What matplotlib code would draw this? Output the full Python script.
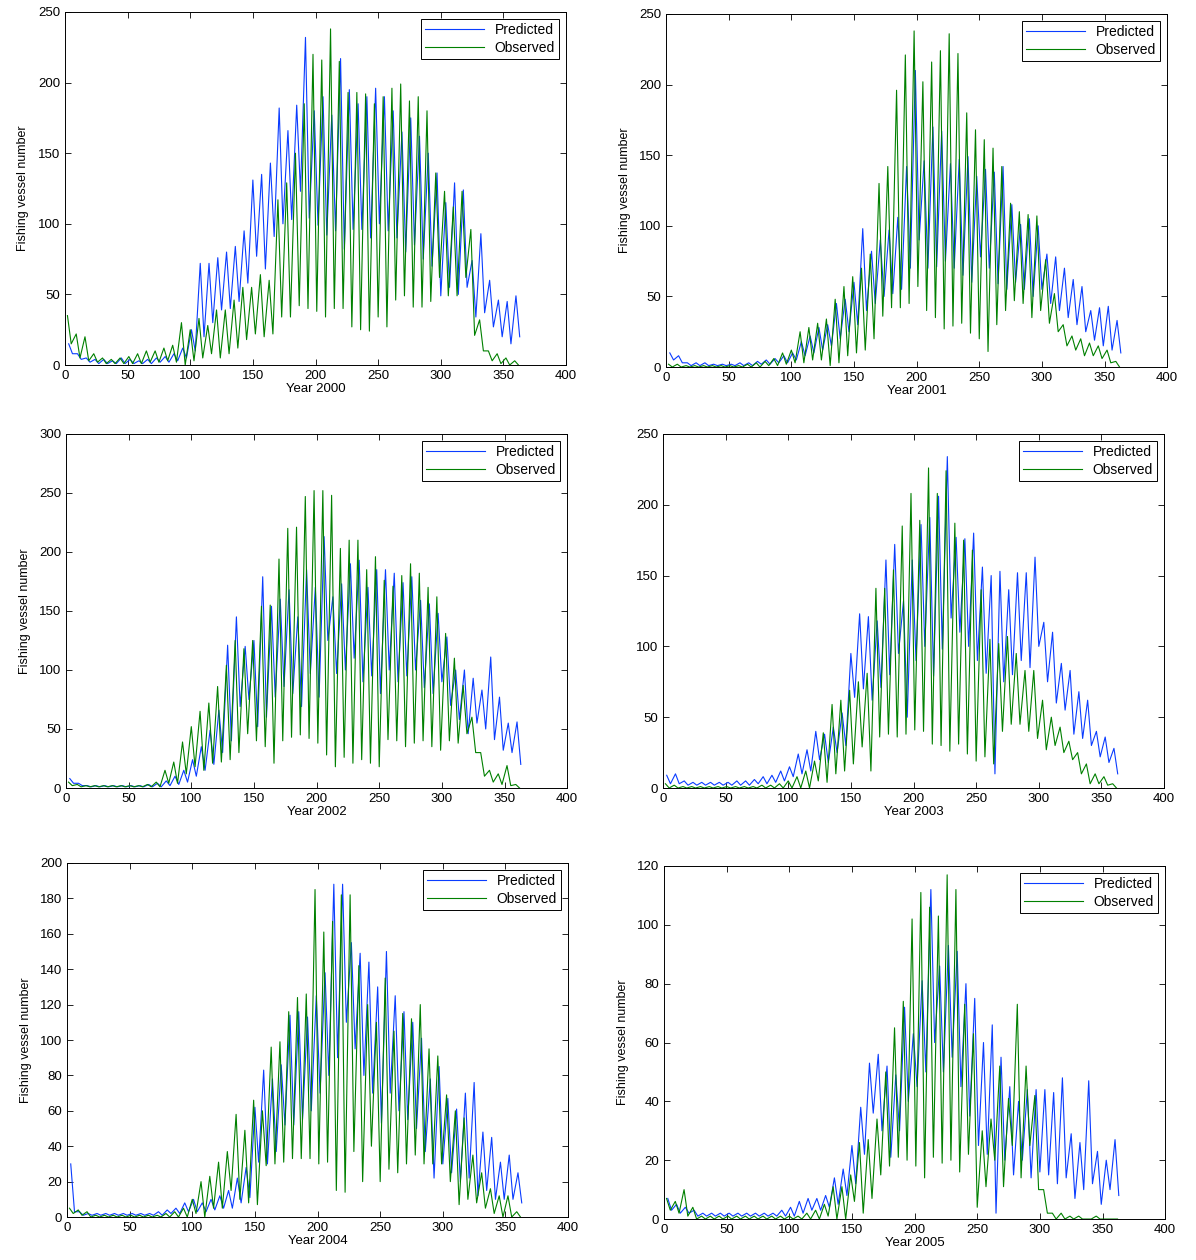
import numpy as np
import matplotlib
matplotlib.use("Agg")
import matplotlib.pyplot as plt

plt.rcParams['font.family'] = ['Liberation Sans', 'DejaVu Sans']

# weekly envelope values (week 0 = days 0-6 ... week 52 = day 364)
# hi = weekly peak, lo = weekly dip

obs_hi_2000 = [35, 22, 20, 8, 5, 4, 5, 6, 8, 10, 10, 12, 14, 30, 25, 33, 28, 39, 39, 46, 55, 55, 64, 60,
               117, 129, 150, 185, 220, 216, 238, 215, 193, 193, 192, 185, 190, 196, 199, 187, 190, 180,
               136, 123, 112, 123, 96, 32, 10, 8, 5, 3, 2]
obs_lo_2000 = [15, 5, 3, 2, 1, 1, 1, 1, 1, 2, 2, 3, 2, 0, 3, 5, 8, 5, 8, 12, 18, 22, 20, 22, 34, 34, 42,
               40, 38, 34, 40, 40, 27, 25, 24, 34, 27, 46, 49, 41, 41, 45, 62, 49, 49, 62, 21, 10, 3, 1,
               0, 0, 0]
pred_hi_2000 = [15, 8, 5, 4, 4, 3, 5, 4, 3, 4, 5, 6, 8, 12, 25, 72, 72, 76, 80, 84, 95, 131, 135, 143,
                182, 166, 184, 232, 180, 190, 177, 217, 195, 185, 190, 196, 190, 180, 165, 175, 162,
                150, 136, 115, 129, 124, 74, 93, 60, 46, 45, 49, 39]
pred_lo_2000 = [8, 4, 2, 1, 1, 1, 1, 1, 1, 1, 2, 2, 3, 5, 10, 20, 30, 39, 40, 45, 58, 77, 68, 91, 100,
                103, 123, 104, 99, 92, 95, 82, 96, 96, 90, 100, 95, 90, 80, 85, 75, 70, 49, 55, 50, 55,
                34, 37, 27, 20, 15, 20, 18]

obs_hi_2001 = [2, 2, 1, 1, 1, 1, 1, 1, 1, 2, 3, 4, 6, 10, 12, 25, 28, 31, 34, 48, 57, 64, 70, 80, 130,
               142, 196, 221, 238, 202, 216, 224, 236, 222, 180, 168, 161, 155, 142, 116, 110, 108, 107,
               76, 52, 30, 22, 20, 17, 15, 12, 4, 2]
obs_lo_2001 = [0, 0, 0, 0, 0, 0, 0, 0, 0, 0, 0, 1, 1, 2, 3, 3, 5, 5, 1, 3, 8, 10, 12, 20, 36, 42, 42,
               45, 57, 40, 35, 27, 29, 31, 24, 20, 11, 30, 40, 47, 45, 35, 40, 31, 25, 15, 12, 8, 8, 6,
               3, 0, 0]
pred_hi_2001 = [10, 8, 3, 3, 3, 2, 2, 2, 3, 3, 4, 5, 6, 8, 10, 18, 22, 28, 30, 45, 48, 60, 98, 82, 90,
                97, 106, 142, 210, 146, 170, 167, 144, 147, 149, 135, 140, 138, 142, 115, 101, 105, 100,
                80, 78, 70, 62, 57, 40, 42, 43, 33, 24]
pred_lo_2001 = [5, 3, 1, 1, 1, 1, 1, 1, 1, 1, 2, 2, 3, 3, 5, 8, 10, 12, 15, 20, 25, 30, 40, 45, 50, 52,
                55, 70, 90, 70, 71, 75, 70, 65, 60, 78, 70, 59, 55, 60, 55, 50, 55, 45, 40, 35, 30, 25,
                19, 15, 12, 10, 8]

obs_hi_2002 = [5, 3, 2, 2, 2, 2, 2, 2, 2, 3, 5, 15, 22, 39, 52, 65, 72, 86, 104, 125, 118, 125, 154,
               155, 194, 220, 221, 247, 252, 252, 248, 203, 210, 210, 185, 196, 176, 171, 180, 190, 182,
               170, 162, 131, 110, 87, 60, 30, 15, 12, 19, 3, 3]
obs_lo_2002 = [2, 1, 1, 1, 1, 1, 1, 1, 1, 1, 1, 4, 4, 12, 18, 15, 21, 22, 24, 30, 46, 40, 35, 21, 40,
               43, 45, 42, 38, 28, 18, 26, 21, 24, 21, 18, 41, 40, 35, 38, 40, 35, 32, 40, 38, 46, 30,
               10, 5, 3, 2, 0, 0]
pred_hi_2002 = [8, 4, 2, 2, 2, 2, 2, 2, 2, 3, 4, 6, 10, 15, 24, 35, 49, 66, 121, 145, 120, 125, 179,
                154, 160, 168, 145, 185, 170, 213, 162, 173, 190, 193, 170, 185, 185, 182, 174, 179, 159,
                156, 148, 128, 100, 100, 93, 83, 111, 77, 55, 56, 48]
pred_lo_2002 = [4, 2, 1, 1, 1, 1, 1, 1, 1, 1, 1, 2, 3, 5, 10, 15, 20, 30, 40, 69, 75, 52, 60, 77, 86,
                80, 69, 97, 77, 125, 97, 100, 110, 90, 95, 80, 100, 90, 95, 100, 85, 80, 90, 70, 58, 46,
                55, 50, 41, 32, 30, 20, 25]

obs_hi_2003 = [3, 2, 1, 1, 1, 1, 1, 1, 1, 1, 1, 2, 2, 3, 5, 8, 12, 19, 39, 59, 62, 69, 75, 81, 141,
               141, 154, 185, 208, 189, 226, 208, 224, 187, 175, 168, 140, 105, 102, 107, 95, 83, 83, 62,
               50, 43, 33, 25, 17, 10, 8, 3, 5]
obs_lo_2003 = [0, 0, 0, 0, 0, 0, 0, 0, 0, 0, 0, 0, 0, 0, 0, 0, 0, 5, 4, 10, 12, 17, 29, 12, 36, 38, 36,
               38, 41, 40, 31, 30, 26, 31, 24, 19, 22, 17, 40, 45, 45, 40, 35, 27, 30, 25, 20, 10, 3, 3,
               2, 0, 2]
pred_hi_2003 = [9, 10, 5, 4, 4, 4, 4, 4, 5, 5, 6, 8, 9, 12, 15, 24, 27, 40, 38, 43, 53, 95, 123, 121,
                118, 161, 172, 132, 161, 186, 191, 206, 234, 177, 176, 180, 156, 150, 153, 140, 152, 152,
                163, 117, 110, 88, 83, 68, 62, 40, 36, 28, 26]
pred_lo_2003 = [3, 3, 2, 2, 2, 2, 2, 2, 2, 2, 3, 3, 4, 5, 8, 10, 12, 20, 18, 25, 30, 64, 70, 62, 71,
                80, 95, 50, 90, 100, 79, 98, 120, 110, 100, 90, 81, 10, 75, 80, 90, 85, 100, 75, 60, 55,
                38, 35, 30, 22, 18, 10, 12]

obs_hi_2004 = [5, 4, 3, 1, 1, 1, 1, 1, 1, 1, 1, 2, 3, 5, 10, 20, 23, 31, 37, 58, 49, 66, 60, 96, 99,
               116, 124, 126, 185, 161, 167, 182, 182, 142, 120, 110, 135, 105, 115, 112, 120, 95, 91,
               69, 60, 56, 35, 25, 16, 12, 12, 3, 5]
obs_lo_2004 = [2, 1, 0, 0, 0, 0, 0, 0, 0, 0, 0, 0, 0, 0, 2, 0, 5, 5, 15, 10, 8, 7, 29, 30, 31, 33, 33,
               33, 30, 31, 15, 14, 37, 20, 40, 20, 27, 25, 30, 35, 30, 30, 30, 20, 7, 10, 8, 5, 2, 0, 0,
               0, 2]
pred_hi_2004 = [30, 3, 2, 2, 2, 2, 2, 2, 2, 2, 3, 4, 5, 8, 10, 8, 10, 12, 15, 22, 28, 62, 83, 78, 86,
                114, 116, 113, 125, 138, 188, 188, 155, 149, 144, 130, 150, 125, 116, 110, 101, 78, 85,
                67, 61, 70, 76, 48, 45, 31, 35, 25, 22]
pred_lo_2004 = [3, 1, 1, 1, 1, 1, 1, 1, 1, 1, 1, 2, 2, 3, 3, 3, 4, 5, 5, 8, 11, 31, 30, 37, 52, 52, 55,
                60, 70, 80, 90, 110, 95, 80, 70, 53, 70, 60, 55, 50, 37, 22, 30, 25, 20, 22, 12, 15, 10,
                10, 10, 8, 8]

obs_hi_2005 = [7, 6, 10, 4, 1, 1, 1, 1, 1, 1, 1, 1, 1, 1, 1, 1, 2, 3, 5, 11, 11, 15, 26, 27, 34, 50,
               65, 74, 102, 111, 106, 103, 117, 112, 73, 63, 30, 34, 52, 41, 73, 52, 42, 10, 2, 2, 1, 1,
               0, 1, 0, 0, 0]
obs_lo_2005 = [3, 2, 1, 0, 0, 0, 0, 0, 0, 0, 0, 0, 0, 0, 0, 0, 0, 0, 1, 0, 0, 6, 2, 7, 15, 18, 21, 20,
               18, 14, 21, 19, 20, 16, 22, 4, 11, 20, 11, 25, 14, 25, 10, 2, 0, 0, 0, 0, 0, 0, 0, 0, 0]
pred_hi_2005 = [7, 5, 4, 3, 2, 2, 2, 2, 2, 2, 2, 2, 2, 3, 4, 6, 7, 7, 8, 14, 17, 25, 38, 53, 56, 52,
                49, 72, 63, 81, 112, 86, 93, 91, 80, 75, 60, 66, 55, 45, 40, 44, 44, 44, 43, 48, 29, 26,
                47, 23, 20, 27, 22]
pred_lo_2005 = [3, 2, 2, 1, 1, 1, 1, 1, 1, 1, 1, 1, 1, 1, 1, 2, 3, 3, 4, 5, 8, 12, 22, 36, 30, 21, 30,
                40, 45, 50, 60, 50, 55, 45, 35, 25, 22, 2, 20, 15, 20, 14, 16, 15, 12, 14, 7, 10, 12, 5,
                10, 8, 6]

years = [2000, 2001, 2002, 2003, 2004, 2005]
obs_hi = [obs_hi_2000, obs_hi_2001, obs_hi_2002, obs_hi_2003, obs_hi_2004, obs_hi_2005]
obs_lo = [obs_lo_2000, obs_lo_2001, obs_lo_2002, obs_lo_2003, obs_lo_2004, obs_lo_2005]
pred_hi = [pred_hi_2000, pred_hi_2001, pred_hi_2002, pred_hi_2003, pred_hi_2004, pred_hi_2005]
pred_lo = [pred_lo_2000, pred_lo_2001, pred_lo_2002, pred_lo_2003, pred_lo_2004, pred_lo_2005]
ymax = [250, 250, 300, 250, 200, 120]
ystep = [50, 50, 50, 50, 20, 20]
has_ylabel = [True, True, True, False, True, True]

# axes boxes in figure fraction [left, bottom, width, height]
boxes = [
    [0.0543, 0.7103, 0.419, 0.2802],
    [0.5569, 0.7087, 0.419, 0.2802],
    [0.0552, 0.3746, 0.419, 0.2810],
    [0.5543, 0.3746, 0.419, 0.2810],
    [0.0560, 0.0341, 0.419, 0.2810],
    [0.5552, 0.0325, 0.419, 0.2802],
]


def weekly_series(hi, lo, phase):
    # peak then dip each week, as the daily counts swing over the week
    x, y = [], []
    for k in range(len(hi)):
        for d, v in ((7 * k + phase, hi[k]), (7 * k + phase + 3, lo[k])):
            if d <= 365:
                x.append(d)
                y.append(v)
    return np.array(x), np.array(y)


fig = plt.figure(figsize=(11.96, 12.6), dpi=100)

for i, yr in enumerate(years):
    ax = fig.add_axes(boxes[i])
    xp, yp = weekly_series(pred_hi[i], pred_lo[i], 3)
    xo, yo = weekly_series(obs_hi[i], obs_lo[i], 2)
    ax.plot(xp, yp, color='#0a3cff', lw=0.8, label='Predicted')
    ax.plot(xo, yo, color='#008000', lw=0.8, label='Observed')
    ax.set_xlim(0, 400)
    ax.set_ylim(0, ymax[i])
    ax.set_xticks(np.arange(0, 401, 50))
    ax.set_yticks(np.arange(0, ymax[i] + 1, ystep[i]))
    ax.tick_params(direction='in', top=True, right=True, labelsize=9.5, length=4, width=0.6)
    for s in ax.spines.values():
        s.set_linewidth(0.7)
    ax.set_xlabel('Year %d' % yr, fontsize=9.5, labelpad=1)
    if has_ylabel[i]:
        ax.set_ylabel('Fishing vessel number', fontsize=9, labelpad=6)
    leg = ax.legend(loc='upper right', fontsize=10, fancybox=False, framealpha=1,
                    borderaxespad=0.5, handlelength=4.2, borderpad=0.3, labelspacing=0.25)
    leg.get_frame().set_edgecolor('black')
    leg.get_frame().set_linewidth(0.7)

fig.savefig('out.png', dpi=100)
